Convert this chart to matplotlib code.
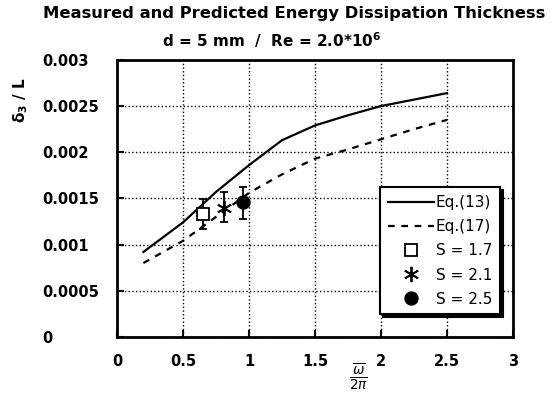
import numpy as np
import matplotlib.pyplot as plt

# curvas teoricas
x_eq13 = [0.2, 0.5, 0.75, 1.0, 1.25, 1.5, 1.75, 2.0, 2.25, 2.5]
y_eq13 = [0.00092, 0.00124, 0.00157, 0.00186, 0.00213, 0.00229, 0.0024, 0.0025, 0.00257, 0.00264]
x_eq17 = [0.2, 0.5, 0.75, 1.0, 1.25, 1.5, 1.75, 2.0, 2.25, 2.5]
y_eq17 = [0.0008, 0.00104, 0.0013, 0.00156, 0.00176, 0.00193, 0.00203, 0.00214, 0.00225, 0.00235]

# mediciones
s_labels = ['S = 1.7', 'S = 2.1', 'S = 2.5']
s_x = [0.65, 0.81, 0.955]
s_y = [0.00133, 0.0014, 0.00146]
s_lo = [0.00117, 0.00124, 0.00128]
s_hi = [0.00149, 0.00157, 0.00162]

plt.rcParams['font.family'] = 'DejaVu Sans'

fig = plt.figure(figsize=(5.6, 3.94), dpi=100)
ax = fig.add_axes([0.209, 0.145, 0.707, 0.703])

ax.plot(x_eq13, y_eq13, '-', color='black', lw=1.6, label='Eq.(13)')
ax.plot(x_eq17, y_eq17, '--', color='black', lw=1.6, dashes=(3, 3), label='Eq.(17)')

markers = ['s', (6, 2, 0), 'o']
faces = ['white', 'black', 'black']
sizes = [9, 11, 9]
for i in range(3):
    ax.errorbar(s_x[i], s_y[i],
                yerr=[[s_y[i] - s_lo[i]], [s_hi[i] - s_y[i]]],
                fmt='none', ecolor='black', elinewidth=1.3, capsize=3, capthick=1.3)
    ax.plot(s_x[i], s_y[i], linestyle='none', marker=markers[i], markersize=sizes[i],
            markerfacecolor=faces[i], markeredgecolor='black', markeredgewidth=1.3,
            label=s_labels[i])

ax.set_xlim(0, 3)
ax.set_ylim(0, 0.003)
ax.set_xticks([0, 0.5, 1, 1.5, 2, 2.5, 3])
ax.set_xticklabels(['0', '0.5', '1', '1.5', '2', '2.5', '3'])
ax.set_yticks([0, 0.0005, 0.001, 0.0015, 0.002, 0.0025, 0.003])
ax.set_yticklabels(['0', '0.0005', '0.001', '0.0015', '0.002', '0.0025', '0.003'])
ax.grid(True, color='black', linestyle=':', linewidth=1)
ax.tick_params(direction='in', length=5, width=1.5, labelsize=10.5)
ax.tick_params(axis='x', pad=12)
ax.tick_params(axis='y', pad=54)
for lbl in ax.get_xticklabels() + ax.get_yticklabels():
    lbl.set_fontweight('bold')
for lbl in ax.get_yticklabels():
    lbl.set_horizontalalignment('left')
for sp in ax.spines.values():
    sp.set_linewidth(2)

leg = ax.legend(loc='lower right', bbox_to_anchor=(0.975, 0.07), frameon=True,
                fancybox=False, edgecolor='black', fontsize=11, handlelength=3.0,
                handletextpad=0.15, borderpad=0.5, labelspacing=0.6,
                borderaxespad=0.2,
                shadow={'facecolor': 'black', 'edgecolor': 'black', 'alpha': 1})
leg.get_frame().set_linewidth(1.5)

fig.text(0.525, 0.965, 'Measured and Predicted Energy Dissipation Thickness',
         ha='center', va='center', fontsize=11.8, fontweight='bold')
fig.text(0.485, 0.898, r'd = 5 mm  /  Re = 2.0*10$^{\mathbf{6}}$',
         ha='center', va='center', fontsize=11, fontweight='bold')
fig.text(0.036, 0.745, r'$\mathbf{\delta_3}$ / L', rotation=90, ha='center', va='center',
         fontsize=11, fontweight='bold')
fig.text(0.64, 0.045, r'$\frac{\overline{\omega}}{2\pi}$', ha='center', va='center',
         fontsize=14, family='serif')

fig.savefig('out.png', dpi=100)
